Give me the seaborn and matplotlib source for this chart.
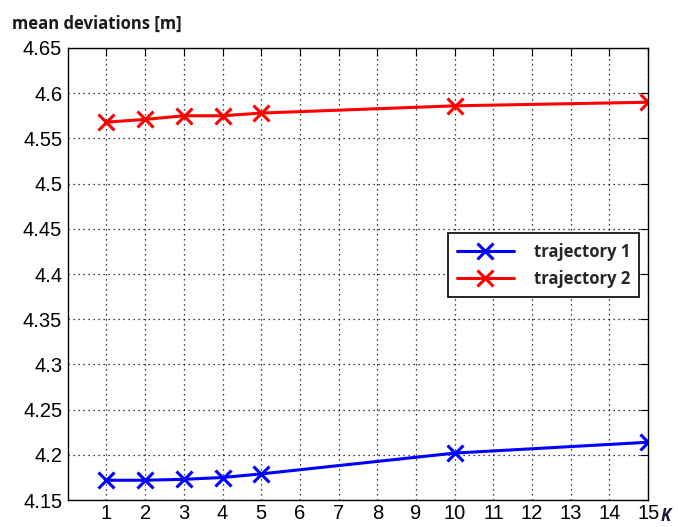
import numpy as np
import pandas as pd
import matplotlib
matplotlib.use("Agg")
import matplotlib.pyplot as plt
import seaborn as sns

# data
k_values = [1, 2, 3, 4, 5, 10, 15]
traj1 = [4.172, 4.172, 4.173, 4.175, 4.179, 4.202, 4.214]
traj2 = [4.568, 4.571, 4.575, 4.575, 4.578, 4.586, 4.590]
series_names = ["trajectory 1", "trajectory 2"]
series_colors = ["#0000ff", "#ff0000"]
x_ticks = list(range(1, 16))
y_ticks = [4.15, 4.2, 4.25, 4.3, 4.35, 4.4, 4.45, 4.5, 4.55, 4.6, 4.65]
y_tick_labels = ["4.15", "4.2", "4.25", "4.3", "4.35", "4.4", "4.45", "4.5", "4.55", "4.6", "4.65"]

sns.set_style("white")
plt.rcParams["font.family"] = ["Liberation Sans", "DejaVu Sans"]

fig = plt.figure(figsize=(6.78, 5.27), dpi=100)
ax = fig.add_axes([0.100, 0.051, 0.856, 0.858])

# one lineplot call per series so the cross markers keep the line colour
for name, vals, col in zip(series_names, [traj1, traj2], series_colors):
    df = pd.DataFrame({"K": k_values, "dev": vals})
    sns.lineplot(data=df, x="K", y="dev", color=col, label=name,
                 marker="x", markersize=11, markeredgewidth=2.2,
                 markeredgecolor=col, linewidth=2.2, ax=ax)

ax.set_xlim(0, 15)
ax.set_ylim(4.15, 4.65)
ax.set_xticks(x_ticks)
ax.set_yticks(y_ticks)
ax.set_yticklabels(y_tick_labels)
ax.tick_params(direction="in", length=6, top=True, right=True,
               labelsize=14.5, colors="black", pad=4)
ax.tick_params(axis="x", pad=3)
ax.grid(True, linestyle=(0, (1, 3)), color="black", linewidth=0.9)
for sp in ax.spines.values():
    sp.set_color("black")
    sp.set_linewidth(1.0)
ax.set_xlabel("")
ax.set_ylabel("")

fig.text(0.017, 0.945, "mean deviations [m]", fontsize=12, fontweight="bold",
         family=["Open Sans", "DejaVu Sans"], color="#1a1a1a")
fig.text(0.975, 0.012, "K", fontsize=12, fontweight="bold", style="italic",
         family=["Open Sans", "DejaVu Sans"], color="#1a1a40")

leg = ax.legend(loc="upper left", bbox_to_anchor=(0.655, 0.59),
                borderaxespad=0, frameon=True, fancybox=False, edgecolor="black",
                framealpha=1, handlelength=3.4, borderpad=0.55, labelspacing=0.55,
                handletextpad=1.2,
                prop={"family": ["Open Sans", "DejaVu Sans"], "weight": "bold", "size": 12})
leg.get_frame().set_linewidth(1.2)

fig.savefig("out.png", dpi=100)
